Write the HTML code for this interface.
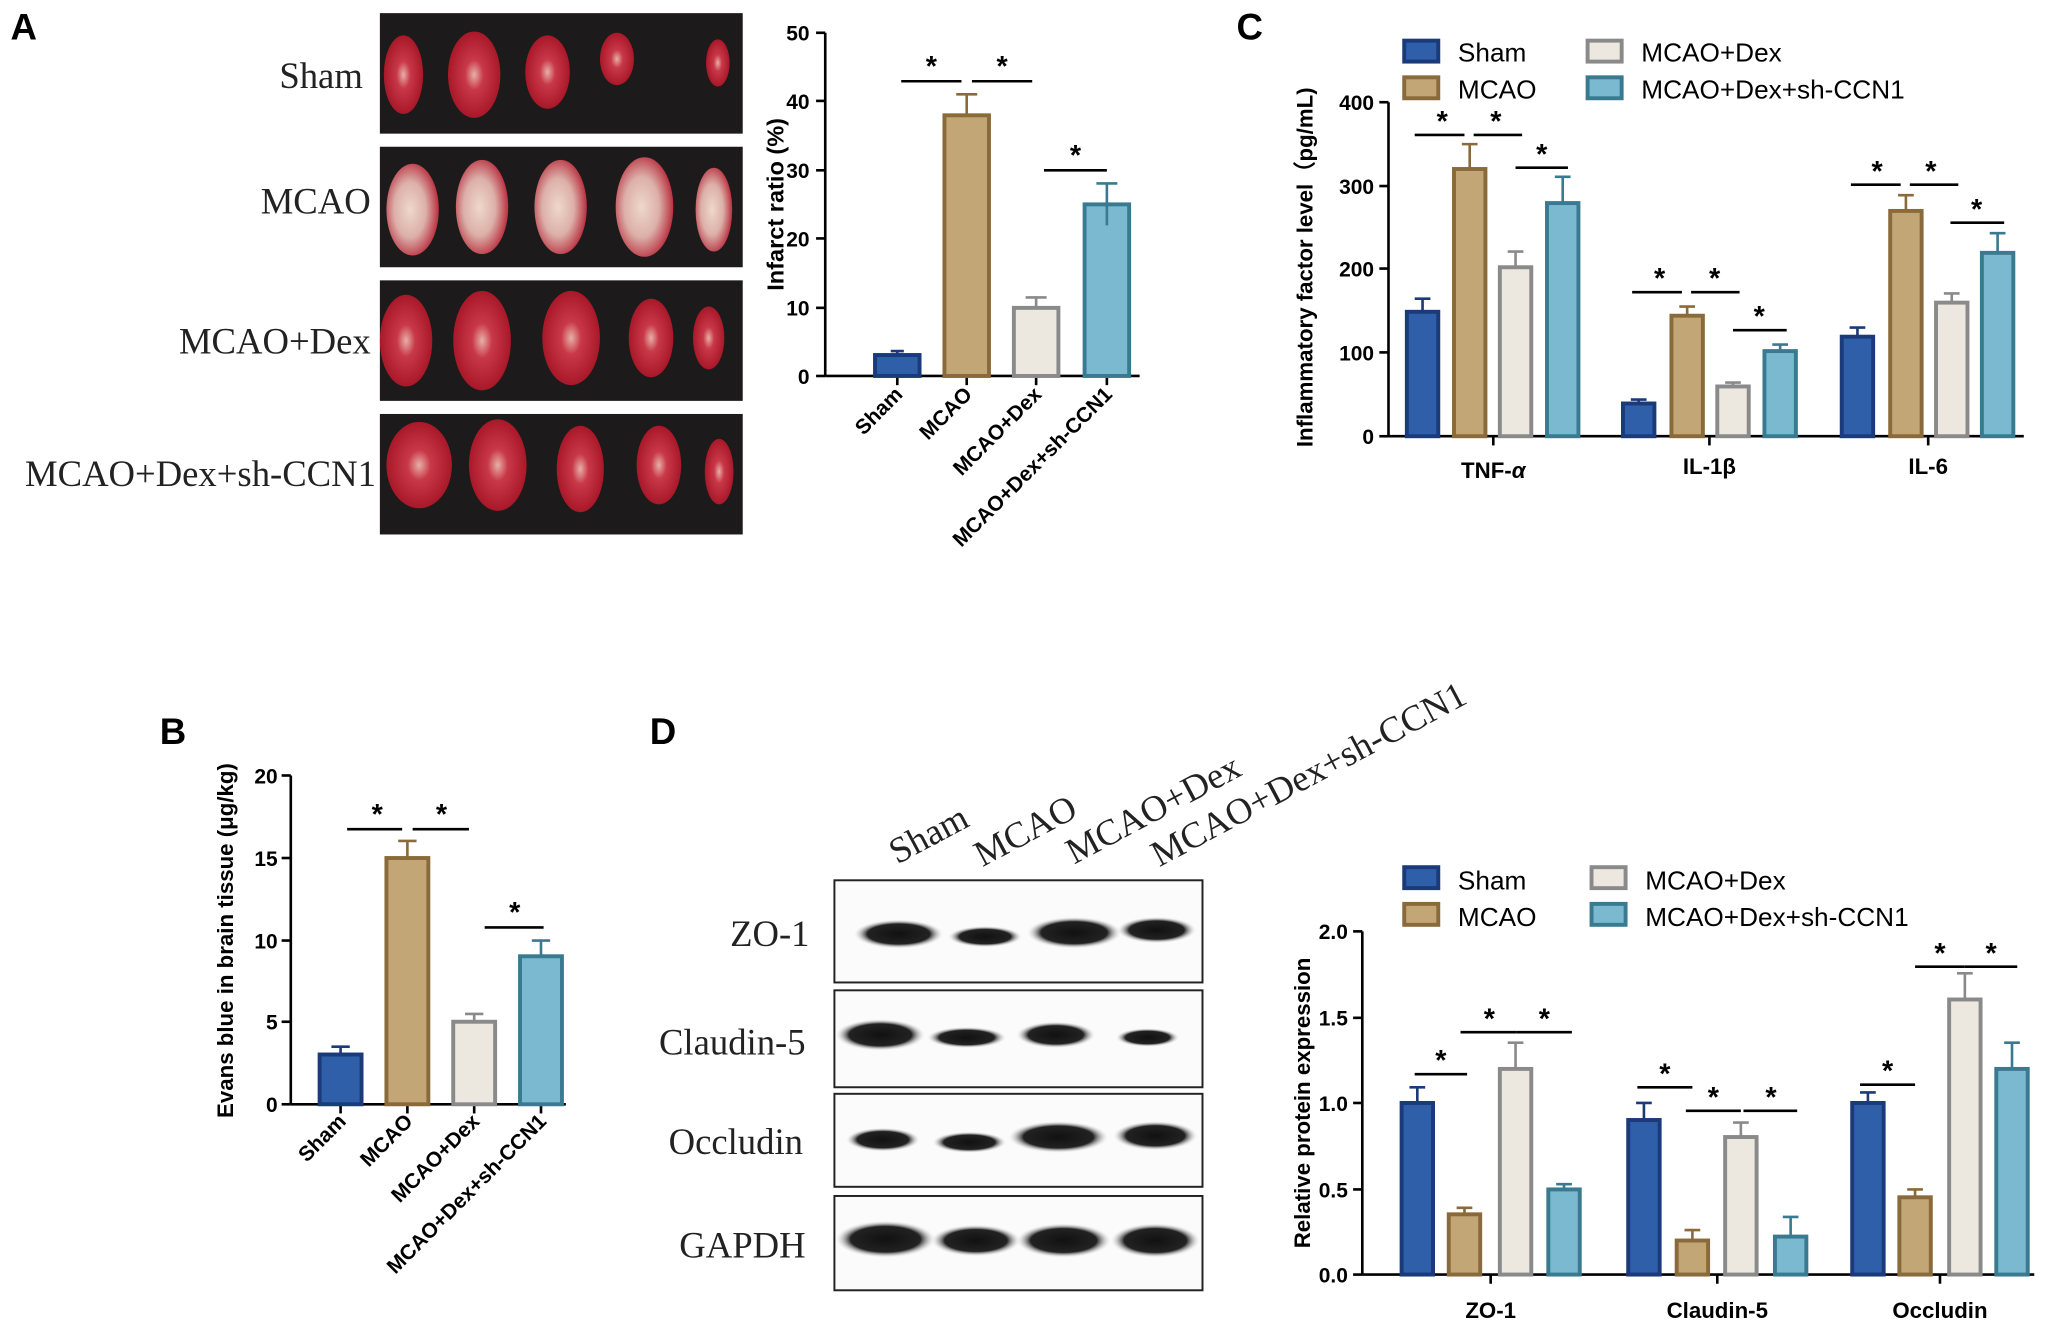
<!DOCTYPE html>
<html><head><meta charset="utf-8"><style>
html,body{margin:0;padding:0;background:#fff}
svg{display:block}
text{font-family:"Liberation Sans",sans-serif}
.b{font-weight:bold}
text.s{font-family:"Liberation Serif",serif;font-weight:normal}
</style></head><body>
<svg width="2050" height="1327" viewBox="0 0 1565 1013" xmlns="http://www.w3.org/2000/svg">
<defs>
<radialGradient id="br" cx="50%" cy="50%" r="50%"><stop offset="0" stop-color="#e8b0a8"/><stop offset="0.35" stop-color="#c83848"/><stop offset="1" stop-color="#a81828"/></radialGradient>
<radialGradient id="bw" cx="45%" cy="50%" r="55%"><stop offset="0" stop-color="#eed8cc"/><stop offset="0.55" stop-color="#dcb0a8"/><stop offset="1" stop-color="#b83040"/></radialGradient>
<radialGradient id="band" cx="50%" cy="50%" r="50%"><stop offset="0" stop-color="#111"/><stop offset="0.7" stop-color="#222"/><stop offset="1" stop-color="#ddd" stop-opacity="0"/></radialGradient>
</defs>
<text x="8" y="30" font-size="28" class="b">A</text>
<text x="944" y="30" font-size="28" class="b">C</text>
<text x="122" y="568" font-size="28" class="b">B</text>
<text x="496" y="568" font-size="28" class="b">D</text>

<g font-size="28" text-anchor="end" fill="#222">
<text x="277" y="67" class="s">Sham</text>
<text x="283" y="163" class="s">MCAO</text>
<text x="283" y="270" class="s">MCAO+Dex</text>
<text x="287" y="371" class="s">MCAO+Dex+sh-CCN1</text>
</g>
<rect x="290" y="10" width="277" height="92" fill="#1c1a1a"/>
<rect x="290" y="112" width="277" height="92" fill="#1c1a1a"/>
<rect x="290" y="214" width="277" height="92" fill="#1c1a1a"/>
<rect x="290" y="316" width="277" height="92" fill="#1c1a1a"/>
<g fill="url(#br)">
<ellipse cx="308" cy="57" rx="15" ry="30"/><ellipse cx="362" cy="57" rx="20" ry="33"/><ellipse cx="418" cy="55" rx="17" ry="28"/><ellipse cx="471" cy="45" rx="13" ry="20"/><ellipse cx="548" cy="48" rx="9" ry="18"/>
<ellipse cx="310" cy="260" rx="20" ry="35"/><ellipse cx="368" cy="260" rx="22" ry="38"/><ellipse cx="436" cy="258" rx="22" ry="36"/><ellipse cx="497" cy="258" rx="17" ry="30"/><ellipse cx="541" cy="258" rx="12" ry="24"/>
<ellipse cx="320" cy="355" rx="25" ry="33"/><ellipse cx="380" cy="355" rx="22" ry="35"/><ellipse cx="443" cy="358" rx="18" ry="33"/><ellipse cx="503" cy="355" rx="17" ry="30"/><ellipse cx="549" cy="360" rx="11" ry="25"/>
</g>
<g fill="url(#bw)">
<ellipse cx="315" cy="160" rx="20" ry="35"/><ellipse cx="368" cy="158" rx="20" ry="36"/><ellipse cx="428" cy="158" rx="20" ry="36"/><ellipse cx="492" cy="158" rx="22" ry="38"/><ellipse cx="545" cy="160" rx="14" ry="32"/>
</g>

<g font-size="16" class="b">
<line x1="630" y1="25" x2="630" y2="287" stroke="#000" stroke-width="2"/>
<line x1="630" y1="287" x2="870" y2="287" stroke="#000" stroke-width="2"/>
<g stroke="#000" stroke-width="2"><line x1="623" y1="25" x2="630" y2="25"/><line x1="623" y1="77" x2="630" y2="77"/><line x1="623" y1="130" x2="630" y2="130"/><line x1="623" y1="182" x2="630" y2="182"/><line x1="623" y1="235" x2="630" y2="235"/><line x1="623" y1="287" x2="630" y2="287"/>
<line x1="685" y1="287" x2="685" y2="294"/><line x1="738" y1="287" x2="738" y2="294"/><line x1="791" y1="287" x2="791" y2="294"/><line x1="845" y1="287" x2="845" y2="294"/></g>
<g text-anchor="end"><text x="618" y="31">50</text><text x="618" y="83">40</text><text x="618" y="136">30</text><text x="618" y="188">20</text><text x="618" y="241">10</text><text x="618" y="293">0</text></g>
<text transform="translate(598,156) rotate(-90)" text-anchor="middle" font-size="18">Infarct ratio (%)</text>
<rect x="668" y="271" width="34" height="16" fill="#2f5fa8" stroke="#1a3a7a" stroke-width="3"/>
<rect x="721" y="88" width="34" height="199" fill="#c3a676" stroke="#8a6a3a" stroke-width="3"/>
<rect x="774" y="235" width="34" height="52" fill="#ece8e0" stroke="#8a8a8a" stroke-width="3"/>
<rect x="828" y="156" width="34" height="131" fill="#7ab9d0" stroke="#3a7a90" stroke-width="3"/>
<g stroke-width="2" fill="none"><path d="M680 268h10M685 268v3" stroke="#1a3a7a"/><path d="M730 72h16M738 72v16" stroke="#8a6a3a"/><path d="M783 227h16M791 227v8" stroke="#8a8a8a"/><path d="M837 140h16M845 140v32" stroke="#3a7a90"/></g>
<g stroke="#000" stroke-width="2"><line x1="688" y1="62" x2="734" y2="62"/><line x1="742" y1="62" x2="788" y2="62"/><line x1="797" y1="130" x2="845" y2="130"/></g>
<g text-anchor="middle" font-size="22"><text x="711" y="58">*</text><text x="765" y="58">*</text><text x="821" y="126">*</text></g>
<g text-anchor="end" font-size="16"><text transform="translate(690,302) rotate(-45)">Sham</text><text transform="translate(743,302) rotate(-45)">MCAO</text><text transform="translate(796,302) rotate(-45)">MCAO+Dex</text><text transform="translate(850,302) rotate(-45)">MCAO+Dex+sh-CCN1</text></g>
</g>

<g font-size="16" class="b">
<rect x="1072" y="31" width="26" height="16" fill="#2f5fa8" stroke="#1a3a7a" stroke-width="3"/><text x="1113" y="47" font-weight="normal" font-size="20">Sham</text>
<rect x="1072" y="59" width="26" height="16" fill="#c3a676" stroke="#8a6a3a" stroke-width="3"/><text x="1113" y="75" font-weight="normal" font-size="20">MCAO</text>
<rect x="1212" y="31" width="26" height="16" fill="#ece8e0" stroke="#8a8a8a" stroke-width="3"/><text x="1253" y="47" font-weight="normal" font-size="20">MCAO+Dex</text>
<rect x="1212" y="59" width="26" height="16" fill="#7ab9d0" stroke="#3a7a90" stroke-width="3"/><text x="1253" y="75" font-weight="normal" font-size="20">MCAO+Dex+sh-CCN1</text>
<line x1="1060" y1="78" x2="1060" y2="333" stroke="#000" stroke-width="2"/>
<line x1="1060" y1="333" x2="1545" y2="333" stroke="#000" stroke-width="2"/>
<g stroke="#000" stroke-width="2"><line x1="1053" y1="78" x2="1060" y2="78"/><line x1="1053" y1="142" x2="1060" y2="142"/><line x1="1053" y1="205" x2="1060" y2="205"/><line x1="1053" y1="269" x2="1060" y2="269"/><line x1="1053" y1="333" x2="1060" y2="333"/>
<line x1="1140" y1="333" x2="1140" y2="340"/><line x1="1305" y1="333" x2="1305" y2="340"/><line x1="1472" y1="333" x2="1472" y2="340"/></g>
<g text-anchor="end"><text x="1049" y="84">400</text><text x="1049" y="148">300</text><text x="1049" y="211">200</text><text x="1049" y="275">100</text><text x="1049" y="339">0</text></g>
<text transform="translate(1002,204) rotate(-90)" text-anchor="middle" font-size="17">Inflammatory factor level（pg/mL)</text>
<g text-anchor="middle" font-size="17"><text x="1140" y="365">TNF-<tspan font-style="italic">α</tspan></text><text x="1305" y="362">IL-1β</text><text x="1472" y="362">IL-6</text></g>
<g stroke-width="3">
<rect x="1074" y="238" width="24" height="95" fill="#2f5fa8" stroke="#1a3a7a"/>
<rect x="1110" y="129" width="24" height="204" fill="#c3a676" stroke="#8a6a3a"/>
<rect x="1145" y="204" width="24" height="129" fill="#ece8e0" stroke="#8a8a8a"/>
<rect x="1181" y="155" width="24" height="178" fill="#7ab9d0" stroke="#3a7a90"/>
<rect x="1239" y="308" width="24" height="25" fill="#2f5fa8" stroke="#1a3a7a"/>
<rect x="1276" y="241" width="24" height="92" fill="#c3a676" stroke="#8a6a3a"/>
<rect x="1311" y="295" width="24" height="38" fill="#ece8e0" stroke="#8a8a8a"/>
<rect x="1347" y="268" width="24" height="65" fill="#7ab9d0" stroke="#3a7a90"/>
<rect x="1406" y="257" width="24" height="76" fill="#2f5fa8" stroke="#1a3a7a"/>
<rect x="1443" y="161" width="24" height="172" fill="#c3a676" stroke="#8a6a3a"/>
<rect x="1478" y="231" width="24" height="102" fill="#ece8e0" stroke="#8a8a8a"/>
<rect x="1513" y="193" width="24" height="140" fill="#7ab9d0" stroke="#3a7a90"/>
</g>
<g stroke-width="2" fill="none">
<path d="M1080 228h12M1086 228v10" stroke="#1a3a7a"/><path d="M1116 110h12M1122 110v19" stroke="#8a6a3a"/><path d="M1151 192h12M1157 192v12" stroke="#8a8a8a"/><path d="M1187 135h12M1193 135v20" stroke="#3a7a90"/>
<path d="M1245 305h12M1251 305v3" stroke="#1a3a7a"/><path d="M1282 234h12M1288 234v7" stroke="#8a6a3a"/><path d="M1317 292h12M1323 292v3" stroke="#8a8a8a"/><path d="M1353 263h12M1359 263v5" stroke="#3a7a90"/>
<path d="M1412 250h12M1418 250v7" stroke="#1a3a7a"/><path d="M1449 149h12M1455 149v12" stroke="#8a6a3a"/><path d="M1484 224h12M1490 224v7" stroke="#8a8a8a"/><path d="M1519 178h12M1525 178v15" stroke="#3a7a90"/>
</g>
<g stroke="#000" stroke-width="2"><line x1="1080" y1="103" x2="1118" y2="103"/><line x1="1125" y1="103" x2="1162" y2="103"/><line x1="1157" y1="128" x2="1197" y2="128"/>
<line x1="1246" y1="223" x2="1284" y2="223"/><line x1="1291" y1="223" x2="1328" y2="223"/><line x1="1323" y1="252" x2="1364" y2="252"/>
<line x1="1413" y1="141" x2="1451" y2="141"/><line x1="1458" y1="141" x2="1495" y2="141"/><line x1="1489" y1="170" x2="1530" y2="170"/></g>
<g text-anchor="middle" font-size="22"><text x="1101" y="100">*</text><text x="1142" y="100">*</text><text x="1177" y="125">*</text><text x="1267" y="220">*</text><text x="1309" y="220">*</text><text x="1343" y="249">*</text><text x="1433" y="138">*</text><text x="1474" y="138">*</text><text x="1509" y="167">*</text></g>
</g>

<g font-size="16" class="b">
<line x1="222" y1="592" x2="222" y2="843" stroke="#000" stroke-width="2"/>
<line x1="222" y1="843" x2="432" y2="843" stroke="#000" stroke-width="2"/>
<g stroke="#000" stroke-width="2"><line x1="215" y1="592" x2="222" y2="592"/><line x1="215" y1="655" x2="222" y2="655"/><line x1="215" y1="718" x2="222" y2="718"/><line x1="215" y1="780" x2="222" y2="780"/><line x1="215" y1="843" x2="222" y2="843"/>
<line x1="260" y1="843" x2="260" y2="850"/><line x1="311" y1="843" x2="311" y2="850"/><line x1="362" y1="843" x2="362" y2="850"/><line x1="413" y1="843" x2="413" y2="850"/></g>
<g text-anchor="end"><text x="212" y="598">20</text><text x="212" y="661">15</text><text x="212" y="724">10</text><text x="212" y="786">5</text><text x="212" y="849">0</text></g>
<text transform="translate(178,718) rotate(-90)" text-anchor="middle" font-size="17">Evans blue in brain tissue (μg/kg)</text>
<g stroke-width="3">
<rect x="244" y="805" width="32" height="38" fill="#2f5fa8" stroke="#1a3a7a"/>
<rect x="295" y="655" width="32" height="188" fill="#c3a676" stroke="#8a6a3a"/>
<rect x="346" y="780" width="32" height="63" fill="#ece8e0" stroke="#8a8a8a"/>
<rect x="397" y="730" width="32" height="113" fill="#7ab9d0" stroke="#3a7a90"/>
</g>
<g stroke-width="2" fill="none"><path d="M253 799h14M260 799v6" stroke="#1a3a7a"/><path d="M304 642h14M311 642v13" stroke="#8a6a3a"/><path d="M355 774h14M362 774v6" stroke="#8a8a8a"/><path d="M406 718h14M413 718v12" stroke="#3a7a90"/></g>
<g stroke="#000" stroke-width="2"><line x1="265" y1="633" x2="307" y2="633"/><line x1="315" y1="633" x2="358" y2="633"/><line x1="370" y1="708" x2="415" y2="708"/></g>
<g text-anchor="middle" font-size="22"><text x="288" y="629">*</text><text x="337" y="629">*</text><text x="393" y="704">*</text></g>
<g text-anchor="end" font-size="16"><text transform="translate(265,857) rotate(-45)">Sham</text><text transform="translate(316,857) rotate(-45)">MCAO</text><text transform="translate(367,857) rotate(-45)">MCAO+Dex</text><text transform="translate(418,857) rotate(-45)">MCAO+Dex+sh-CCN1</text></g>
</g>

<g font-size="28" fill="#222">
<text class="s" transform="translate(685,660) rotate(-28)">Sham</text>
<text class="s" transform="translate(750,662) rotate(-28)">MCAO</text>
<text class="s" transform="translate(820,660) rotate(-28)">MCAO+Dex</text>
<text class="s" transform="translate(885,662) rotate(-28)">MCAO+Dex+sh-CCN1</text>
<g text-anchor="end"><text class="s" x="618" y="722">ZO-1</text><text class="s" x="615" y="805">Claudin-5</text><text class="s" x="613" y="881">Occludin</text><text class="s" x="615" y="960">GAPDH</text></g>
</g>
<g fill="#fbfbfb" stroke="#222" stroke-width="1.5">
<rect x="637" y="672" width="281" height="78"/><rect x="637" y="756" width="281" height="74"/><rect x="637" y="835" width="281" height="71"/><rect x="637" y="913" width="281" height="72"/>
</g>
<g fill="url(#band)">
<ellipse cx="686" cy="713" rx="34" ry="11"/><ellipse cx="752" cy="715" rx="28" ry="8"/><ellipse cx="820" cy="712" rx="36" ry="12"/><ellipse cx="883" cy="710" rx="30" ry="10"/>
<ellipse cx="672" cy="790" rx="34" ry="12"/><ellipse cx="738" cy="792" rx="30" ry="8"/><ellipse cx="806" cy="790" rx="30" ry="10"/><ellipse cx="876" cy="792" rx="24" ry="7"/>
<ellipse cx="674" cy="870" rx="28" ry="9"/><ellipse cx="740" cy="872" rx="28" ry="8"/><ellipse cx="808" cy="868" rx="38" ry="12"/><ellipse cx="882" cy="867" rx="32" ry="11"/>
<ellipse cx="676" cy="946" rx="38" ry="14"/><ellipse cx="745" cy="947" rx="34" ry="12"/><ellipse cx="812" cy="947" rx="36" ry="13"/><ellipse cx="882" cy="947" rx="34" ry="13"/>
</g>

<g font-size="16" class="b">
<rect x="1072" y="662" width="26" height="16" fill="#2f5fa8" stroke="#1a3a7a" stroke-width="3"/><text x="1113" y="679" font-weight="normal" font-size="20">Sham</text>
<rect x="1072" y="690" width="26" height="16" fill="#c3a676" stroke="#8a6a3a" stroke-width="3"/><text x="1113" y="707" font-weight="normal" font-size="20">MCAO</text>
<rect x="1215" y="662" width="26" height="16" fill="#ece8e0" stroke="#8a8a8a" stroke-width="3"/><text x="1256" y="679" font-weight="normal" font-size="20">MCAO+Dex</text>
<rect x="1215" y="690" width="26" height="16" fill="#7ab9d0" stroke="#3a7a90" stroke-width="3"/><text x="1256" y="707" font-weight="normal" font-size="20">MCAO+Dex+sh-CCN1</text>
<line x1="1040" y1="711" x2="1040" y2="973" stroke="#000" stroke-width="2"/>
<line x1="1040" y1="973" x2="1553" y2="973" stroke="#000" stroke-width="2"/>
<g stroke="#000" stroke-width="2"><line x1="1033" y1="711" x2="1040" y2="711"/><line x1="1033" y1="777" x2="1040" y2="777"/><line x1="1033" y1="842" x2="1040" y2="842"/><line x1="1033" y1="908" x2="1040" y2="908"/><line x1="1033" y1="973" x2="1040" y2="973"/>
<line x1="1138" y1="973" x2="1138" y2="980"/><line x1="1311" y1="973" x2="1311" y2="980"/><line x1="1481" y1="973" x2="1481" y2="980"/></g>
<g text-anchor="end"><text x="1029" y="717">2.0</text><text x="1029" y="783">1.5</text><text x="1029" y="848">1.0</text><text x="1029" y="914">0.5</text><text x="1029" y="979">0.0</text></g>
<text transform="translate(1000,842) rotate(-90)" text-anchor="middle" font-size="17">Relative protein expression</text>
<g text-anchor="middle" font-size="17"><text x="1138" y="1006">ZO-1</text><text x="1311" y="1006">Claudin-5</text><text x="1481" y="1006">Occludin</text></g>
<g stroke-width="3">
<rect x="1070" y="842" width="24" height="131" fill="#2f5fa8" stroke="#1a3a7a"/>
<rect x="1106" y="927" width="24" height="46" fill="#c3a676" stroke="#8a6a3a"/>
<rect x="1145" y="816" width="24" height="157" fill="#ece8e0" stroke="#8a8a8a"/>
<rect x="1182" y="908" width="24" height="65" fill="#7ab9d0" stroke="#3a7a90"/>
<rect x="1243" y="855" width="24" height="118" fill="#2f5fa8" stroke="#1a3a7a"/>
<rect x="1280" y="947" width="24" height="26" fill="#c3a676" stroke="#8a6a3a"/>
<rect x="1317" y="868" width="24" height="105" fill="#ece8e0" stroke="#8a8a8a"/>
<rect x="1355" y="944" width="24" height="29" fill="#7ab9d0" stroke="#3a7a90"/>
<rect x="1414" y="842" width="24" height="131" fill="#2f5fa8" stroke="#1a3a7a"/>
<rect x="1450" y="914" width="24" height="59" fill="#c3a676" stroke="#8a6a3a"/>
<rect x="1488" y="763" width="24" height="210" fill="#ece8e0" stroke="#8a8a8a"/>
<rect x="1524" y="816" width="24" height="157" fill="#7ab9d0" stroke="#3a7a90"/>
</g>
<g stroke-width="2" fill="none">
<path d="M1076 830h12M1082 830v12" stroke="#1a3a7a"/><path d="M1112 922h12M1118 922v5" stroke="#8a6a3a"/><path d="M1151 796h12M1157 796v20" stroke="#8a8a8a"/><path d="M1188 904h12M1194 904v4" stroke="#3a7a90"/>
<path d="M1249 842h12M1255 842v13" stroke="#1a3a7a"/><path d="M1286 939h12M1292 939v8" stroke="#8a6a3a"/><path d="M1323 857h12M1329 857v11" stroke="#8a8a8a"/><path d="M1361 929h12M1367 929v15" stroke="#3a7a90"/>
<path d="M1420 834h12M1426 834v8" stroke="#1a3a7a"/><path d="M1456 908h12M1462 908v6" stroke="#8a6a3a"/><path d="M1494 743h12M1500 743v20" stroke="#8a8a8a"/><path d="M1530 796h12M1536 796v20" stroke="#3a7a90"/>
</g>
<g stroke="#000" stroke-width="2"><line x1="1080" y1="820" x2="1120" y2="820"/><line x1="1115" y1="788" x2="1158" y2="788"/><line x1="1158" y1="788" x2="1200" y2="788"/>
<line x1="1250" y1="830" x2="1292" y2="830"/><line x1="1287" y1="848" x2="1329" y2="848"/><line x1="1331" y1="848" x2="1372" y2="848"/>
<line x1="1420" y1="828" x2="1462" y2="828"/><line x1="1462" y1="738" x2="1500" y2="738"/><line x1="1500" y1="738" x2="1540" y2="738"/></g>
<g text-anchor="middle" font-size="22"><text x="1100" y="817">*</text><text x="1137" y="785">*</text><text x="1179" y="785">*</text><text x="1271" y="827">*</text><text x="1308" y="845">*</text><text x="1352" y="845">*</text><text x="1441" y="825">*</text><text x="1481" y="735">*</text><text x="1520" y="735">*</text></g>
</g>
</svg>
</body></html>
